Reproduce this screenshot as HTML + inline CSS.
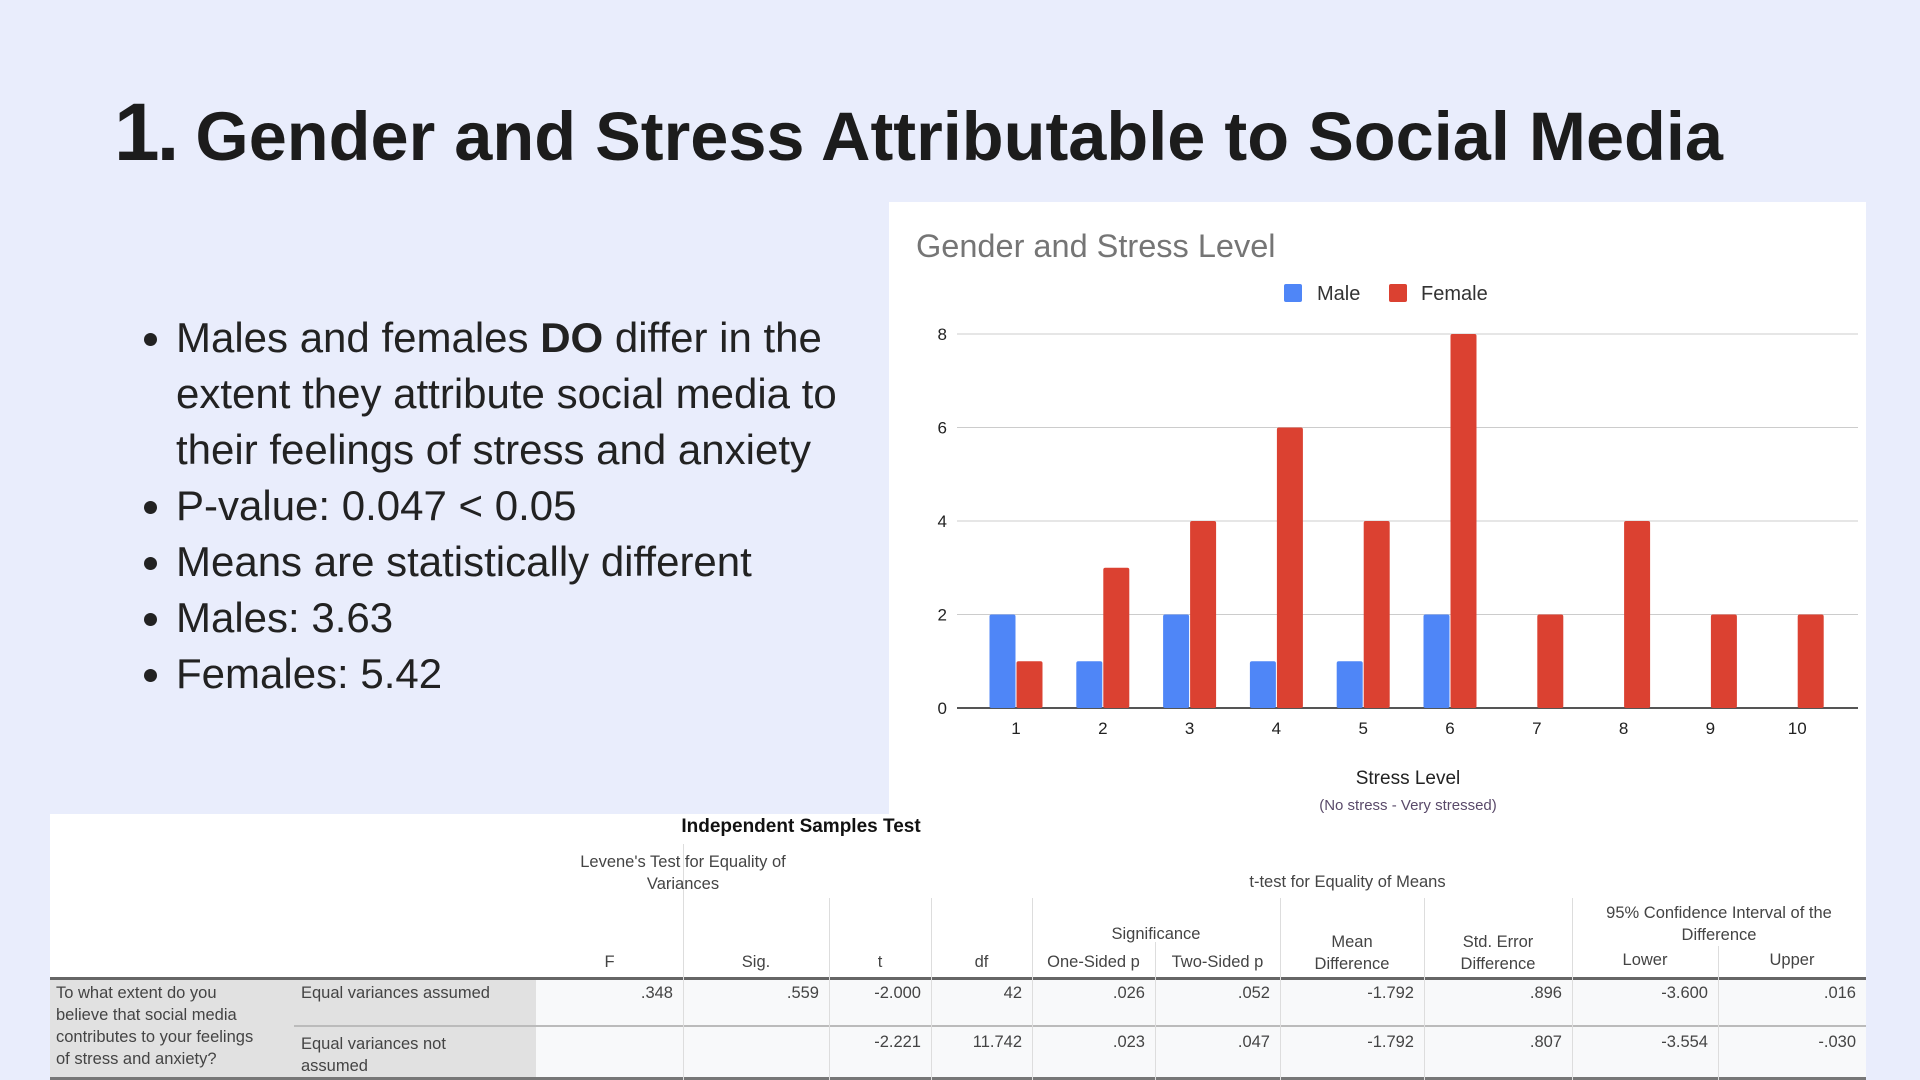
<!DOCTYPE html>
<html><head><meta charset="utf-8"><style>
body{margin:0;width:1920px;height:1080px;background:#e9edfc;position:relative;overflow:hidden;font-family:"Liberation Sans",sans-serif}
#title{position:absolute;left:114px;top:86px;font-weight:bold;color:#1c1c1c;font-size:68.5px;white-space:nowrap}
#title .num{font-size:82px;letter-spacing:-3px}
#bullets{position:absolute;left:146px;top:310px;margin:0;padding:0 0 0 30px;font-size:42px;line-height:56px;color:#222;width:712px}
#bullets li{padding-left:0}
#chart{position:absolute;left:889px;top:202px}
#tbl{position:absolute;left:50px;top:814px;width:1816px;height:266px;background:#fff}
.t{position:absolute;font-size:16.5px;color:#444;white-space:nowrap}
.c{text-align:center}
.r{text-align:right}
.vl{position:absolute;width:1px;background:#ddd}
</style></head><body>
<div id="title"><span class="num">1.</span> Gender and Stress Attributable to Social Media</div>
<ul id="bullets">
<li>Males and females <b>DO</b> differ in the extent they attribute social media to their feelings of stress and anxiety</li>
<li>P-value: 0.047 &lt; 0.05</li>
<li>Means are statistically different</li>
<li>Males: 3.63</li>
<li>Females: 5.42</li>
</ul>
<svg id="chart" width="977" height="612" font-family="Liberation Sans, sans-serif">
<rect width="977" height="612" fill="#fff"/>
<text x="27" y="55" font-size="32.5" fill="#757575">Gender and Stress Level</text>
<rect x="395" y="82" width="18" height="18" fill="#4f86f7" rx="2"/>
<text x="428" y="98" font-size="20" fill="#333">Male</text>
<rect x="500" y="82" width="18" height="18" fill="#db4131" rx="2"/>
<text x="532" y="98" font-size="20" fill="#333">Female</text>
<g id="grid"></g><g id="bars"></g><g id="xlab"></g>
<text x="519" y="582" font-size="19" fill="#222" text-anchor="middle">Stress Level</text>
<text x="519" y="608" font-size="15" fill="#5a4a6a" text-anchor="middle">(No stress - Very stressed)</text>
</svg>
<script>
const categories=["1","2","3","4","5","6","7","8","9","10"];
const maleValues=[2,1,2,1,1,2,0,0,0,0];
const femaleValues=[1,3,4,6,4,8,2,4,2,2];
const yTicks=[0,2,4,6,8];
(function(){
const NS="http://www.w3.org/2000/svg";
const x0=68,x1=969,yTop=132,yBot=506,yMax=8;
const y=v=>yBot-(v/yMax)*(yBot-yTop);
const band=86.8,first=127;
const cx=i=>first+i*band;
const g=document.getElementById('grid');
yTicks.forEach(t=>{
 const l=document.createElementNS(NS,'line');
 l.setAttribute('x1',x0);l.setAttribute('x2',x1);l.setAttribute('y1',y(t));l.setAttribute('y2',y(t));
 l.setAttribute('stroke',t===0?'#555':'#ccc');l.setAttribute('stroke-width',t===0?2:1);
 
 
 g.appendChild(l);
 const tx=document.createElementNS(NS,'text');
 tx.setAttribute('x',58);tx.setAttribute('y',y(t)+6);tx.setAttribute('font-size',17);tx.setAttribute('fill','#222');tx.setAttribute('text-anchor','end');
 tx.textContent=t;
 
 
 g.appendChild(tx);
});
const b=document.getElementById('bars'),xl=document.getElementById('xlab');
const bw=26;
categories.forEach((c,i)=>{
 [[maleValues[i],'#4f86f7',-bw-0.5],[femaleValues[i],'#db4131',0.5]].forEach(([v,col,off],k)=>{
  if(v<=0)return;
  const r=document.createElementNS(NS,'rect');
  r.setAttribute('x',cx(i)+off);r.setAttribute('width',bw);r.setAttribute('y',y(v));r.setAttribute('height',yBot-y(v));
  r.setAttribute('fill',col);r.setAttribute('rx',2);
  
  
  b.appendChild(r);
 });
 const t=document.createElementNS(NS,'text');
 t.setAttribute('x',cx(i));t.setAttribute('y',532);t.setAttribute('font-size',17);t.setAttribute('fill','#222');t.setAttribute('text-anchor','middle');
 t.textContent=c;
 
 
 xl.appendChild(t);
});
})();
</script>
<div id="tbl">
<div class="t c" style="left:0;width:1502px;top:2px;font-weight:bold;color:#111;font-size:19px">Independent Samples Test</div>
<div style="position:absolute;left:0;top:163px;width:1816px;height:3px;background:#666"></div>
<div style="position:absolute;left:0;top:166px;width:486px;height:100px;background:#e1e1e1"></div>
<div style="position:absolute;left:486px;top:166px;width:1330px;height:100px;background:#f8f9fa"></div>
<div style="position:absolute;left:244px;top:211px;width:1572px;height:2px;background:#bbb"></div>
<div style="position:absolute;left:0;top:263px;width:1816px;height:3px;background:#777"></div>
<div class="vl" style="left:633px;top:30px;height:236px"></div>
<div class="vl" style="left:779px;top:84px;height:182px"></div>
<div class="vl" style="left:881px;top:84px;height:182px"></div>
<div class="vl" style="left:982px;top:84px;height:182px"></div>
<div class="vl" style="left:1105px;top:128px;height:138px"></div>
<div class="vl" style="left:1230px;top:84px;height:182px"></div>
<div class="vl" style="left:1374px;top:84px;height:182px"></div>
<div class="vl" style="left:1522px;top:84px;height:182px"></div>
<div class="vl" style="left:1668px;top:132px;height:134px"></div>
<div class="vl" style="left:633px;top:166px;height:100px"></div>
<div class="t c" style="left:486px;width:294px;top:37px;line-height:22px">Levene's Test for Equality of<br>Variances</div>
<div class="t c" style="left:779px;width:1037px;top:59px">t-test for Equality of Means</div>
<div class="t c" style="left:982px;width:248px;top:111px">Significance</div>
<div class="t c" style="left:1522px;width:294px;top:88px;line-height:22px">95% Confidence Interval of the<br>Difference</div>
<div class="t c" style="left:486px;width:147px;top:139px">F</div>
<div class="t c" style="left:633px;width:146px;top:139px">Sig.</div>
<div class="t c" style="left:779px;width:102px;top:139px">t</div>
<div class="t c" style="left:881px;width:101px;top:139px">df</div>
<div class="t c" style="left:982px;width:123px;top:139px">One-Sided p</div>
<div class="t c" style="left:1105px;width:125px;top:139px">Two-Sided p</div>
<div class="t c" style="left:1230px;width:144px;top:117px;line-height:22px">Mean<br>Difference</div>
<div class="t c" style="left:1374px;width:148px;top:117px;line-height:22px">Std. Error<br>Difference</div>
<div class="t c" style="left:1522px;width:146px;top:137px">Lower</div>
<div class="t c" style="left:1668px;width:148px;top:137px">Upper</div>
<div class="t" style="left:6px;top:168px;line-height:22px">To what extent do you<br>believe that social media<br>contributes to your feelings<br>of stress and anxiety?</div>
<div class="t" style="left:251px;top:170px">Equal variances assumed</div>
<div class="t" style="left:251px;top:219px;line-height:22px">Equal variances not<br>assumed</div>
<div class="t r" style="left:486px;width:137px;top:170px">.348</div>
<div class="t r" style="left:633px;width:136px;top:170px">.559</div>
<div class="t r" style="left:779px;width:92px;top:170px">-2.000</div>
<div class="t r" style="left:881px;width:91px;top:170px">42</div>
<div class="t r" style="left:982px;width:113px;top:170px">.026</div>
<div class="t r" style="left:1105px;width:115px;top:170px">.052</div>
<div class="t r" style="left:1230px;width:134px;top:170px">-1.792</div>
<div class="t r" style="left:1374px;width:138px;top:170px">.896</div>
<div class="t r" style="left:1522px;width:136px;top:170px">-3.600</div>
<div class="t r" style="left:1668px;width:138px;top:170px">.016</div>
<div class="t r" style="left:779px;width:92px;top:219px">-2.221</div>
<div class="t r" style="left:881px;width:91px;top:219px">11.742</div>
<div class="t r" style="left:982px;width:113px;top:219px">.023</div>
<div class="t r" style="left:1105px;width:115px;top:219px">.047</div>
<div class="t r" style="left:1230px;width:134px;top:219px">-1.792</div>
<div class="t r" style="left:1374px;width:138px;top:219px">.807</div>
<div class="t r" style="left:1522px;width:136px;top:219px">-3.554</div>
<div class="t r" style="left:1668px;width:138px;top:219px">-.030</div>
</div>
</body></html>
